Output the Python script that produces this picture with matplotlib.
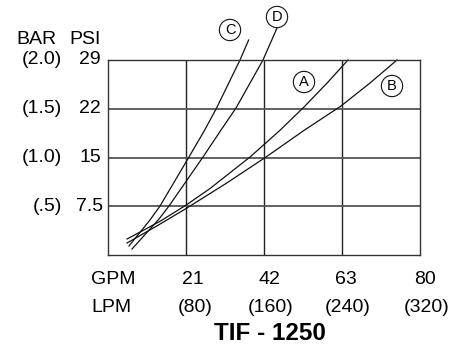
import matplotlib
matplotlib.use("Agg")
import matplotlib.pyplot as plt

plt.rcParams['font.family'] = ['Liberation Sans', 'DejaVu Sans']

# axis labels (grid units: each grid cell = 1)
gpm_labels = ['21', '42', '63', '80']
lpm_labels = ['(80)', '(160)', '(240)', '(320)']
psi_labels = ['7.5', '15', '22', '29']
bar_labels = ['(.5)', '(1.0)', '(1.5)', '(2.0)']
grid_pos = [1, 2, 3, 4]

# curves, in grid units
a_x = [0.244, 0.667, 1.000, 1.308, 1.821, 2.205, 2.513, 2.808, 3.077]
a_y = [0.328, 0.691, 1.022, 1.364, 2.010, 2.558, 3.036, 3.526, 4.000]
b_x = [0.244, 0.628, 1.000, 1.513, 2.026, 2.513, 2.987, 3.359, 3.705]
b_y = [0.246, 0.597, 0.952, 1.467, 2.010, 2.556, 3.056, 3.528, 4.000]
c_x = [0.269, 0.538, 0.667, 1.038, 1.240, 1.392, 1.692, 1.803]
c_y = [0.185, 0.718, 1.005, 2.010, 2.564, 3.015, 4.000, 4.410]
d_x = [0.308, 0.654, 0.782, 1.218, 1.449, 1.641, 1.987, 2.167]
d_y = [0.123, 0.738, 1.005, 2.010, 2.564, 3.015, 4.000, 4.656]

W, H = 462, 352
fig = plt.figure(figsize=(W / 100, H / 100), dpi=100)
ax = fig.add_axes([108 / W, 1 - 255 / H, 312 / W, 195 / H])
ax.set_xlim(0, 4)
ax.set_ylim(0, 4)

ax.set_xticks(grid_pos[:-1])
ax.set_yticks(grid_pos[:-1])
ax.tick_params(length=0, labelbottom=False, labelleft=False)
ax.grid(True, axis='x', color='#222222', linewidth=1.0)
ax.grid(True, axis='y', color='#555555', linewidth=1.3)
for s in ax.spines.values():
    s.set_color('#333333')
    s.set_linewidth(1.0)

for xs, ys in [(a_x, a_y), (b_x, b_y), (c_x, c_y), (d_x, d_y)]:
    ax.plot(xs, ys, color='#111111', linewidth=0.9, clip_on=False)


def px(x, y):
    return x / W, 1 - y / H


fs = 14
# y axis labels
fig.text(*px(36, 39), 'BAR', ha='center', va='center', fontsize=fs)
fig.text(*px(85, 39), 'PSI', ha='center', va='center', fontsize=fs)
for g, psi, bar in zip(grid_pos, psi_labels, bar_labels):
    yy = 255 - g * 48.75
    fig.text(*px(90, yy), psi, ha='center', va='center', fontsize=fs)
    fig.text(*px(62, yy), bar, ha='right', va='center', fontsize=fs)

# x axis labels
fig.text(*px(113, 280), 'GPM', ha='center', va='center', fontsize=fs)
fig.text(*px(111, 307), 'LPM', ha='center', va='center', fontsize=fs)
x_shift = [7, 5, 4, 5]
for g, gl, ll, dx in zip(grid_pos, gpm_labels, lpm_labels, x_shift):
    xx = 108 + g * 78 + dx
    fig.text(*px(xx, 280), gl, ha='center', va='center', fontsize=fs)
    fig.text(*px(xx + 2, 307), ll, ha='center', va='center', fontsize=fs)

fig.text(*px(270, 334), 'TIF - 1250', ha='center', va='center',
         fontsize=17.5, fontweight='bold')

# circled curve labels
for lab, x, y in [('A', 304, 82), ('B', 392, 86), ('C', 230, 30), ('D', 277, 17)]:
    fig.text(*px(x, y), lab, ha='center', va='center', fontsize=10.5,
             bbox=dict(boxstyle='circle,pad=0.25', fc='white', ec='#111111', lw=0.8))

fig.savefig('out.png', dpi=100)
